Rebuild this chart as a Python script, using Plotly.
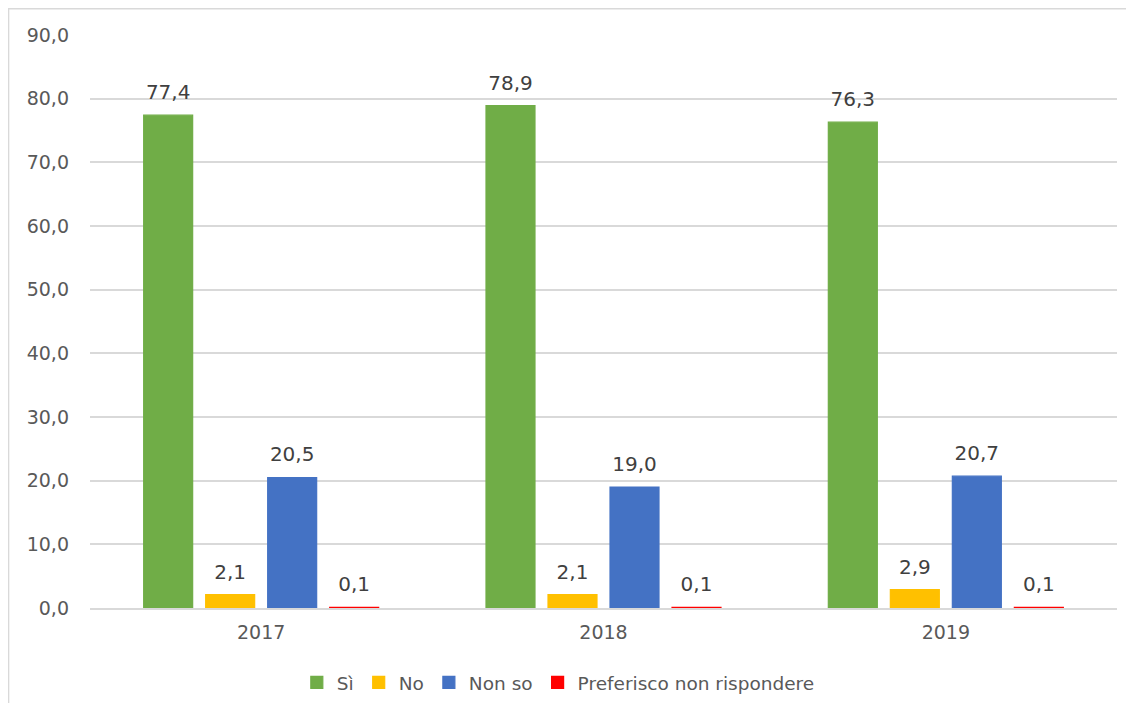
import plotly.graph_objects as go

years = ["2017", "2018", "2019"]
si = [77.4, 78.9, 76.3]
no = [2.1, 2.1, 2.9]
non_so = [20.5, 19.0, 20.7]
preferisco = [0.1, 0.1, 0.1]

series = [
    ("Sì", si, "#70AD47"),
    ("No", no, "#FFC000"),
    ("Non so", non_so, "#4472C4"),
    ("Preferisco non rispondere", preferisco, "#FF0000"),
]

fig = go.Figure()
for i, (name, vals, col) in enumerate(series):
    fig.add_trace(go.Bar(
        x=years, y=vals, name=name, marker_color=col,
        marker_line=dict(color=col, width=1.2), offsetgroup=str(i),
    ))
for i, (name, vals, col) in enumerate(series):
    fig.add_trace(go.Scatter(
        x=years, y=vals, mode="markers+text", offsetgroup=str(i),
        marker=dict(size=16, opacity=0), showlegend=False, hoverinfo="skip",
        text=vals, texttemplate="%{y:.1f}", textposition="top center",
        textfont=dict(size=20, color="#404040"), cliponaxis=False,
    ))

fig.update_layout(
    width=1118, height=695,
    barmode="group", bargap=0.2755, bargroupgap=0.21,
    scattermode="group", scattergap=0.2755,
    separators=",.",
    plot_bgcolor="white", paper_bgcolor="white",
    font=dict(family="DejaVu Sans, Verdana, sans-serif", color="#595959", size=19),
    margin=dict(l=82, r=9, t=27, b=95),
    showlegend=True,
    legend=dict(orientation="h", x=0.456, xanchor="center",
                yref="container", y=0.029, yanchor="middle",
                font=dict(size=18.5, color="#595959"), itemwidth=30, traceorder="normal"),
    yaxis=dict(range=[0, 90], dtick=10, tickformat=".1f", showgrid=True,
               gridcolor="#D9D9D9", gridwidth=1.5, zeroline=False, automargin=False,
               ticklabelstandoff=20, tickfont=dict(size=19, color="#595959")),
    xaxis=dict(showline=True, linecolor="#D9D9D9", linewidth=1.5, automargin=False,
               layer="below traces",
               tickfont=dict(size=19, color="#595959"), ticklabelstandoff=6),
    shapes=[dict(type="rect", xref="paper", yref="paper",
                 x0=-0.0793, x1=1.1, y0=-0.3, y1=1.046,
                 line=dict(color="#D9D9D9", width=1.5), layer="below")],
)

fig.write_html("out.html")
